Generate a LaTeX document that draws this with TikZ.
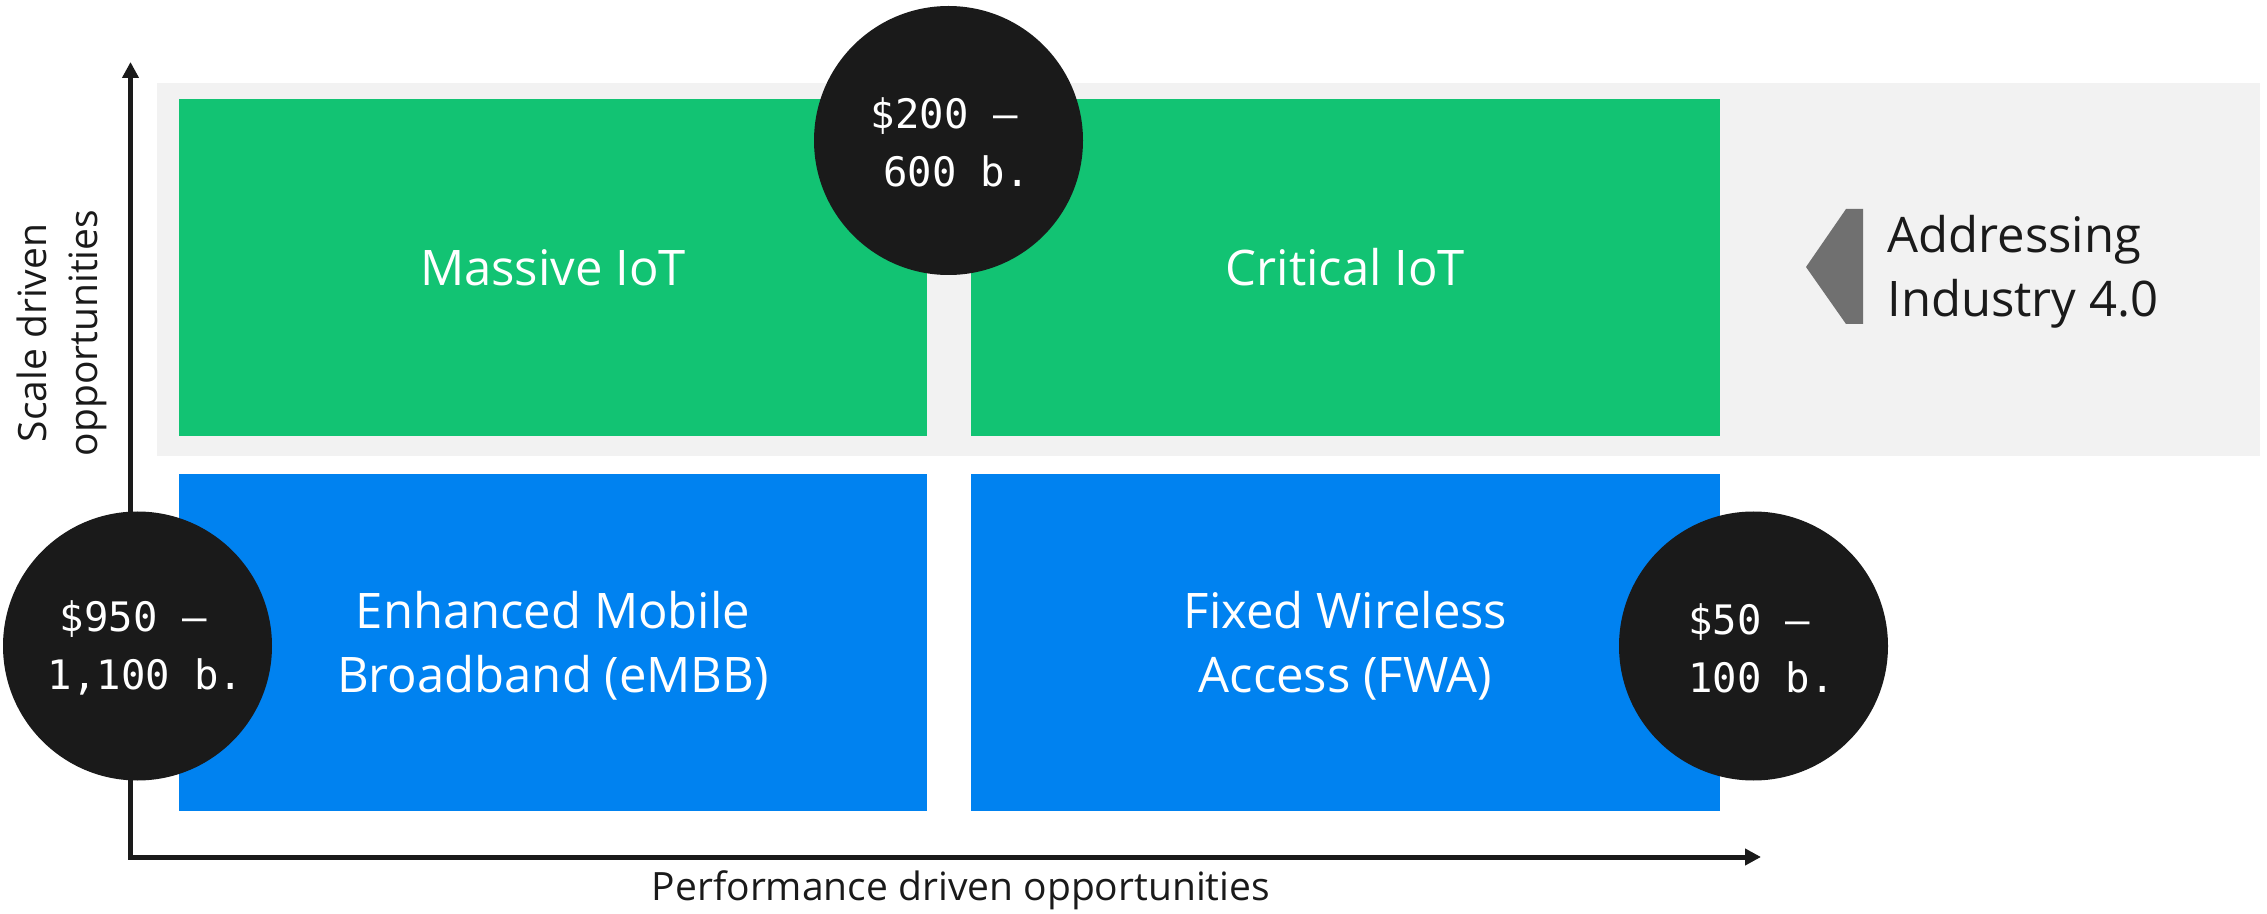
\documentclass[tikz,border=0pt]{standalone}
\usepackage{fontspec}
\setmainfont{Open Sans}
\newfontfamily\monof{DejaVu Sans Mono}
\usetikzlibrary{arrows.meta}
\definecolor{egreen}{HTML}{12C373}
\definecolor{eblue}{HTML}{0082F0}
\definecolor{edark}{HTML}{1A1A1A}
\definecolor{epanel}{HTML}{F2F2F2}
\definecolor{egray}{HTML}{707070}
\begin{document}
\begin{tikzpicture}[x=0.5pt,y=-0.5pt,
  quad/.style={rectangle, inner sep=0pt, minimum width=374pt, minimum height=168.5pt, text=white, font=\fontsize{24.5}{32}\selectfont, align=center},
  bubble/.style={circle, fill=edark, inner sep=0pt, minimum size=134.5pt},
  bubbletext/.style={text=white, font=\monof\fontsize{20.3}{29}\selectfont, align=center, inner sep=0pt},
  axis/.style={draw=edark, line width=2.5pt},
  axislabel/.style={text=edark, font=\fontsize{19.5}{25.5}\selectfont, align=center, inner sep=0pt}
]
\useasboundingbox (0,0) rectangle (2267,914);
% background panel
\node[fill=epanel, inner sep=0pt, minimum width=1051.5pt, minimum height=186.5pt] (panel) at (1208.5,269.5) {};
% quadrants
\node[quad, fill=egreen] (miot) at (553,267.5) {Massive IoT};
\node[quad, fill=egreen, minimum width=374.5pt] (ciot) at (1345.5,267.5) {Critical IoT};
\node[quad, fill=eblue] (embb) at (553,642.5) {};
\node[quad, fill=eblue, minimum width=374.5pt] (fwa) at (1345.5,642.5) {};
\node[quad, minimum width=0pt, minimum height=0pt] (embbt) at ([yshift=-1.5pt]embb.center) {Enhanced Mobile\\Broadband (eMBB)};
\node[quad, minimum width=0pt, minimum height=0pt] (fwat) at ([yshift=-1.5pt]fwa.center) {Fixed Wireless\\Access (FWA)};
% marker and side label
\fill[egray] (1846,209) -- (1863,209) -- (1863,324) -- (1846,324) -- (1806,267) -- cycle;
\node[anchor=base west, text=edark, font=\fontsize{24.5}{32}\selectfont, align=left, inner sep=0pt] (ind) at (1887,317) {Addressing\\Industry 4.0};
% axes
\coordinate (ytip) at (130.5,62);
\coordinate (xtip) at (1761,857);
\draw[axis, {Triangle[length=8pt,width=8pt]}-{Triangle[length=8pt,width=8pt]}] (ytip) |- (xtip);
\node[axislabel, rotate=90] (ylab) at (62,333) {Scale driven\\opportunities};
\node[axislabel, anchor=base] (xlab) at (961,900) {Performance driven opportunities};
% bubbles
\node[bubble] (b1) at (137.5,646) {};
\node[bubbletext] (t1) at ([xshift=4pt,yshift=-1pt]b1.center) {\$950 —\phantom{0}\\1,100 b.};
\node[bubble] (b2) at (948.5,140.5) {};
\node[bubbletext] (t2) at ([xshift=4pt,yshift=-1pt]b2.center) {\$200 —\phantom{0}\\600 b.};
\node[bubble] (b3) at (1753.5,646) {};
\node[bubbletext] (t3) at ([xshift=4pt,yshift=-1pt]b3.center) {\$50 —\phantom{0}\\100 b.};
\end{tikzpicture}
\end{document}
